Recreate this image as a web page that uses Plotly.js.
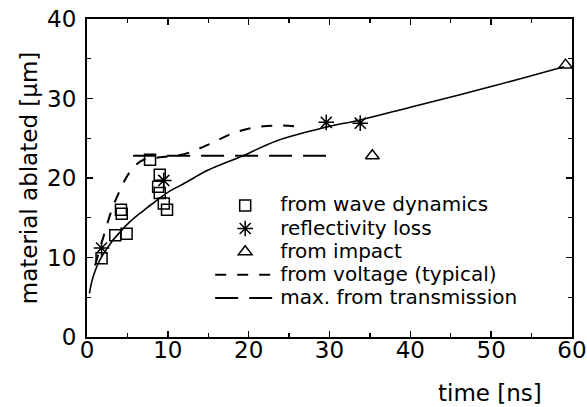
<!DOCTYPE html>
<html>
<head>
<meta charset="utf-8">
<script src="https://cdn.plot.ly/plotly-3.0.1.min.js"></script>
<style>html,body{margin:0;padding:0;background:#fff;}#chart{width:587px;height:407px;}</style>
</head>
<body>
<div id="chart"></div>
<script>
// Data
const waveT = [1.8, 3.5, 4.9, 4.2, 4.3, 7.8, 9.0, 8.8, 9.0, 9.5, 9.9];
const waveA = [9.9, 12.8, 13.0, 16.0, 15.5, 22.3, 20.4, 18.9, 18.1, 16.8, 16.0];

const reflT = [1.8, 9.5, 29.6, 33.8];
const reflA = [11.2, 19.7, 27.0, 26.9];

const impactT = [35.3, 59.2];
const impactA = [22.8, 34.2];

const voltT = [1.0, 2.0, 3.0, 4.0, 5.0, 6.0, 7.0, 9.0, 12.0, 15.0, 18.0, 21.0, 24.0, 27.0];
const voltA = [9.0, 12.5, 15.8, 18.3, 20.3, 21.6, 22.3, 22.6, 23.0, 24.2, 25.6, 26.4, 26.6, 26.4];

const transT = [5.7, 29.7];
const transA = [22.8, 22.8];

const fitT = [0.3, 0.6, 1, 1.5, 2, 3, 4, 5, 6, 7, 8, 10, 12, 15, 19.3, 23.5, 29.6, 33.8, 40, 50, 59];
const fitA = [5.5, 7.0, 8.3, 9.5, 10.4, 11.9, 13.1, 14.2, 15.1, 15.9, 16.7, 18.2, 19.3, 21.0, 22.8, 24.7, 26.4, 27.3, 28.9, 31.5, 34.0];

const names = ["from wave dynamics", "reflectivity loss", "from impact", "from voltage (typical)", "max. from transmission"];
const xTitle = "time [ns]";
const yTitle = "material ablated [\u00b5m]";

const FONT = "DejaVu Sans, Arial, sans-serif";
const mk = (sym, size) => ({symbol: sym, size: size, color: "black", line: {color: "black", width: 1.5}});
// legend text drawn at 20px while the row spacing follows the smaller legend font size
const lg = (s) => '<span style="font-size:20px">' + s + '</span>';

const traces = [
  {x: fitT, y: fitA, mode: "lines", line: {color: "black", width: 1.6, shape: "spline"}, showlegend: false, hoverinfo: "skip"},
  {x: waveT, y: waveA, mode: "markers", name: lg(names[0]), marker: mk("square-open", 11)},
  {x: reflT, y: reflA, mode: "markers", name: lg(names[1]), marker: mk("asterisk-open", 13)},
  {x: impactT, y: impactA, mode: "markers", name: lg(names[2]), marker: mk("triangle-up-open", 12)},
  {x: voltT, y: voltA, mode: "lines", name: lg(names[3]), line: {color: "black", width: 2, dash: "11px,11px", shape: "spline"}},
  {x: transT, y: transA, mode: "lines", name: lg(names[4]), line: {color: "black", width: 2.2, dash: "23px,11px"}}
];

const axisCommon = {
  showgrid: false, zeroline: false, showline: true, linecolor: "black", linewidth: 2,
  mirror: "allticks", ticks: "inside", ticklen: 6, tickwidth: 1.5, tickcolor: "black",
  tickfont: {family: FONT, size: 23, color: "black"},
  minor: {ticks: "inside", ticklen: 4, tickwidth: 1.2, tickcolor: "black", dtick: 5}
};

const layout = {
  width: 587, height: 407,
  margin: {l: 87, r: 15, t: 19, b: 70},
  paper_bgcolor: "white", plot_bgcolor: "white",
  font: {family: FONT, color: "black"},
  xaxis: Object.assign({}, axisCommon, {range: [0, 60], dtick: 10, tick0: 0, ticklabelstandoff: -9}),
  yaxis: Object.assign({}, axisCommon, {range: [0, 40], dtick: 10, tick0: 0, ticklabelstandoff: 4,
    title: {text: yTitle, font: {family: FONT, size: 23, color: "black"}, standoff: 3}}),
  legend: {x: 0.254, y: 0.466, xanchor: "left", yanchor: "top", bgcolor: "rgba(0,0,0,0)",
    font: {family: FONT, size: 15.5, color: "black"}, itemwidth: 60, tracegroupgap: 0},
  annotations: [{text: xTitle, xref: "paper", yref: "paper", x: 0.83, y: 0, yshift: -56,
    xanchor: "center", yanchor: "middle", showarrow: false, font: {family: FONT, size: 23, color: "black"}}]
};

Plotly.newPlot("chart", traces, layout, {staticPlot: true, displayModeBar: false});
</script>
</body>
</html>
